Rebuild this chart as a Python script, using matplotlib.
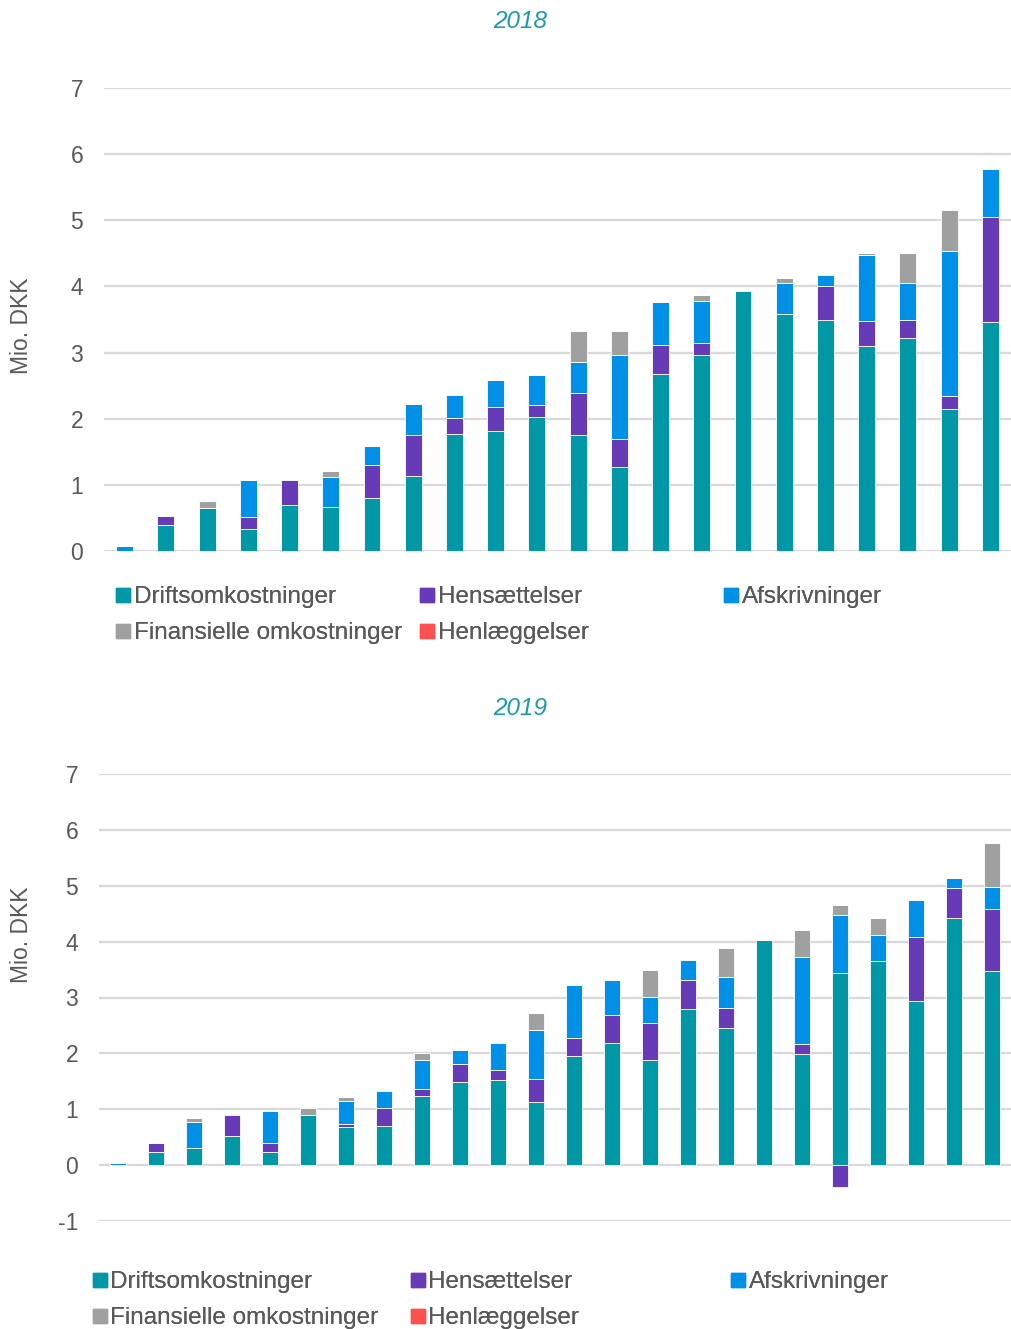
import matplotlib.pyplot as plt
import numpy as np
from matplotlib.lines import Line2D

plt.rcParams['font.family'] = ['Liberation Sans', 'DejaVu Sans']

series_names = ["Driftsomkostninger", "Hensættelser", "Afskrivninger",
                "Finansielle omkostninger", "Henlæggelser"]
series_colors = ["#0098A6", "#673AB7", "#0090E8", "#A0A0A0", "#FF5050"]

# 2018 (Mio. DKK)
drift_2018 = [0, 0.40, 0.65, 0.33, 0.70, 0.66, 0.80, 1.13, 1.77, 1.81, 2.02,
              1.75, 1.27, 2.67, 2.97, 3.93, 3.58, 3.50, 3.10, 3.22, 2.15, 3.46]
hens_2018 = [0, 0.13, 0, 0.18, 0.38, 0, 0.50, 0.62, 0.24, 0.36, 0.18,
             0.64, 0.42, 0.44, 0.17, 0, 0, 0.51, 0.37, 0.27, 0.20, 1.59]
afs_2018 = [0.07, 0, 0, 0.56, 0.01, 0.46, 0.29, 0.47, 0.35, 0.42, 0.46,
            0.47, 1.28, 0.65, 0.64, 0, 0.47, 0.16, 1.01, 0.56, 2.19, 0.72]
fin_2018 = [0, 0, 0.10, 0, 0, 0.09, 0, 0, 0.02, 0, 0,
            0.46, 0.36, 0, 0.09, 0, 0.07, 0, 0.03, 0.45, 0.61, 0]
henl_2018 = [0] * 22

# 2019 (Mio. DKK)
drift_2019 = [0, 0.23, 0.31, 0.52, 0.23, 0.89, 0.68, 0.70, 1.24, 1.49, 1.53, 1.13,
              1.95, 2.19, 1.89, 2.79, 2.46, 4.03, 1.98, 3.44, 3.65, 2.93, 4.43, 3.47]
hens_2019 = [0, 0.17, 0, 0.38, 0.17, 0, 0.06, 0.33, 0.12, 0.32, 0.18, 0.42,
             0.33, 0.49, 0.66, 0.52, 0.36, 0, 0.19, -0.39, 0, 1.15, 0.53, 1.12]
afs_2019 = [0.03, 0, 0.46, 0.01, 0.56, 0, 0.41, 0.29, 0.52, 0.25, 0.47, 0.87,
            0.94, 0.64, 0.46, 0.36, 0.54, 0, 1.55, 1.04, 0.47, 0.67, 0.17, 0.38]
fin_2019 = [0, 0, 0.07, 0, 0, 0.13, 0.07, 0, 0.12, 0, 0, 0.30,
            0.02, 0, 0.49, 0.02, 0.52, 0, 0.49, 0.17, 0.30, 0, 0, 0.79]
henl_2019 = [0] * 24

W, H = 1011, 1329
TXT = "#595959"
TEAL_TITLE = "#1A9BA8"


def stacked( ax, data, ylim, yticks, ticklabels ):
    n = len( data[ 0 ] )
    x = np.arange( n )
    pos = np.zeros( n )
    neg = np.zeros( n )
    for vals, c in zip( data, series_colors ):
        v = np.array( vals, dtype=float )
        bottom = np.where( v >= 0, pos, neg )
        ax.bar( x, v, bottom=bottom, width=0.41, color=c, edgecolor="white",
                linewidth=0.6, zorder=3 )
        pos = pos + np.where( v > 0, v, 0 )
        neg = neg + np.where( v < 0, v, 0 )
    ax.set_xlim( -0.5, n - 0.5 )
    ax.set_ylim( *ylim )
    ax.set_yticks( yticks )
    ax.set_yticklabels( ticklabels )
    ax.set_xticks( [] )
    ax.tick_params( axis="y", length=0, pad=15, labelsize=16.5, labelcolor=TXT )
    ax.grid( axis="y", color="#D9D9D9", linewidth=1.6, zorder=0 )
    for s in ax.spines.values():
        s.set_visible( False )


def legend_cols( fig, xs, y_top ):
    handles = [ Line2D( [], [], marker="s", linestyle="none", markersize=10.5,
                        color=c ) for c in series_colors ]
    cols = [ [ 0, 3 ], [ 1, 4 ], [ 2 ] ]
    for xpx, idx in zip( xs, cols ):
        lg = fig.legend( [ handles[ i ] for i in idx ], [ series_names[ i ] for i in idx ],
                         loc="upper left", bbox_to_anchor=( xpx / W, 1 - y_top / H ),
                         frameon=False, fontsize=17.5, labelcolor=TXT,
                         handlelength=0.6, handletextpad=0.12, labelspacing=0.58,
                         borderpad=0, borderaxespad=0 )
        fig.add_artist( lg )


fig = plt.figure( figsize=( W / 100, H / 100 ), dpi=100 )

ax1 = fig.add_axes( [ 104 / W, 1 - 551 / H, 1 - 104 / W, ( 551 - 88 ) / H ] )
stacked( ax1, [ drift_2018, hens_2018, afs_2018, fin_2018, henl_2018 ],
         ( 0, 7 ), range( 0, 8 ), [ str( v ) for v in range( 0, 8 ) ] )

ax2 = fig.add_axes( [ 99 / W, 1 - 1221 / H, 1 - 99 / W, ( 1221 - 774 ) / H ] )
stacked( ax2, [ drift_2019, hens_2019, afs_2019, fin_2019, henl_2019 ],
         ( -1, 7 ), range( -1, 8 ), [ str( v ) for v in range( -1, 8 ) ] )

fig.text( 520 / W, 1 - 22 / H, "2018", ha="center", va="center", fontsize=17.5,
          style="italic", color=TEAL_TITLE )
fig.text( 520 / W, 1 - 709 / H, "2019", ha="center", va="center", fontsize=17.5,
          style="italic", color=TEAL_TITLE )

fig.text( 22 / W, 1 - 326 / H, "Mio. DKK", rotation=90, ha="center", va="center",
          fontsize=16.5, color=TXT )
fig.text( 22 / W, 1 - 935 / H, "Mio. DKK", rotation=90, ha="center", va="center",
          fontsize=16.5, color=TXT )

legend_cols( fig, [ 116, 420, 724 ], 586 )
legend_cols( fig, [ 93, 411, 731 ], 1271 )

fig.savefig( "out.png", dpi=100, facecolor="white" )
